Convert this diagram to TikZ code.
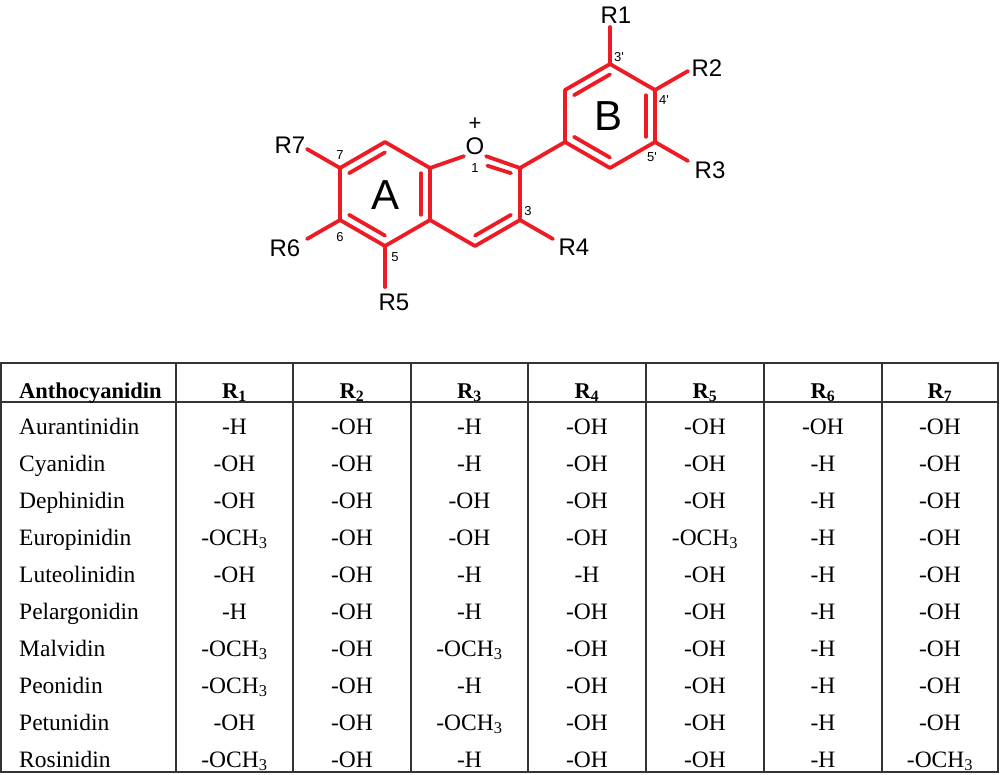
\documentclass[tikz,border=0pt]{standalone}
\usepackage{fontspec}
\setmainfont{Liberation Serif}
\newfontfamily\arial{Liberation Sans}
\usetikzlibrary{calc}
\definecolor{bondred}{RGB}{237,28,36}
\begin{document}
\begin{tikzpicture}[x=1pt,y=-1pt,
  bond/.style={draw=bondred,line width=3.8pt,line cap=round,line join=round},
  rlab/.style={font=\arial\fontsize{24}{24}\selectfont,inner sep=0pt},
  num/.style={font=\arial\fontsize{13}{13}\selectfont,inner sep=0pt},
  ringlab/.style={font=\arial\fontsize{42}{42}\selectfont,inner sep=0pt},
  cell/.style={font=\fontsize{23.5}{23.5}\selectfont,inner sep=0pt,anchor=base},
  hcell/.style={font=\bfseries\fontsize{22.5}{22.5}\selectfont,inner sep=0pt,anchor=base},
  grid/.style={draw=black!80,line width=1.3pt}]
\useasboundingbox (0,0) rectangle (1000,774);
% ring A
\coordinate (c7) at (340,168); \coordinate (c8) at (385,142);
\coordinate (c8a) at (430,168); \coordinate (c4a) at (430,220);
\coordinate (c5) at (385,246); \coordinate (c6) at (340,220);
\coordinate (ca) at (385,194);
% pyran
\node[font=\arial\fontsize{24}{24}\selectfont,inner sep=1.5pt] (o) at (475,146) {O};
\coordinate (c2) at (520,168); \coordinate (c3) at (520,220);
\coordinate (c4) at (475,246); \coordinate (cp) at (475,194);
% ring B
\coordinate (b1) at (565,142); \coordinate (b2) at (610,168);
\coordinate (b3) at (655,142); \coordinate (b4) at (655,90);
\coordinate (b5) at (610,64); \coordinate (b6) at (565,90);
\coordinate (cb) at (610,116);
% substituent ends
\coordinate (e1) at (610,27); \coordinate (e2) at (688,71);
\coordinate (e3) at (688,161); \coordinate (e4) at (553,239);
\coordinate (e5) at (385,287); \coordinate (e6) at (307,239);
\coordinate (e7) at (307,149);
\path[bond] (c7)--(c8)--(c8a)--(c4a)--(c5)--(c6)--cycle;
\path[bond] (c8a)--(o.south west);
\path[bond] (o.south east)--(c2)--(c3)--(c4)--(c4a);
\path[bond] (b1)--(b2)--(b3)--(b4)--(b5)--(b6)--cycle;
\path[bond] (c2)--(b1);
\path[bond] (b5)--(e1); \path[bond] (b4)--(e2); \path[bond] (b3)--(e3);
\path[bond] (c3)--(e4); \path[bond] (c5)--(e5); \path[bond] (c6)--(e6); \path[bond] (c7)--(e7);
% inner double bonds
\path[bond] ($(c7)!0.2!(ca)$)--($(c8)!0.2!(ca)$);
\path[bond] ($(c8a)!0.2!(ca)$)--($(c4a)!0.2!(ca)$);
\path[bond] ($(c5)!0.2!(ca)$)--($(c6)!0.2!(ca)$);
\path[bond] ($(c3)!0.2!(cp)$)--($(c4)!0.2!(cp)$);
\path[bond] ($(o.south east)!0.25!(cp)+(4,0)$)--($(c2)!0.2!(cp)$);
\path[bond] ($(b6)!0.2!(cb)$)--($(b5)!0.2!(cb)$);
\path[bond] ($(b4)!0.2!(cb)$)--($(b3)!0.2!(cb)$);
\path[bond] ($(b1)!0.2!(cb)$)--($(b2)!0.2!(cb)$);
% labels
\node[font=\arial\fontsize{22}{22}\selectfont,inner sep=0pt] (plus) at (475,124) {+};
\node[ringlab] (la) at (386,195) {A};
\node[ringlab] (lb) at (608,116) {B};
\node[rlab] (r1) at (616,15) {R1};
\node[rlab] (r2) at (707,68) {R2};
\node[rlab] (r3) at (710,170) {R3};
\node[rlab] (r4) at (574,247) {R4};
\node[rlab] (r5) at (394,302) {R5};
\node[rlab] (r6) at (285,248) {R6};
\node[rlab] (r7) at (290,145) {R7};
\node[num] (n7) at (340,155) {7};
\node[num] (n6) at (340,237) {6};
\node[num] (n5) at (395,257) {5};
\node[num] (n1) at (475,168) {1};
\node[num] (n3) at (528,211) {3};
\node[num] (n3p) at (619,57) {3'};
\node[num] (n4p) at (664,100) {4'};
\node[num] (n5p) at (652,157) {5'};
% table
\draw[grid] (1,363) rectangle (998,772);
\draw[grid] (1,402) -- (998,402);
\foreach \x in {176,293,411,528,646,764,882} \draw[grid] (\x,363) -- (\x,772);
\node[hcell,anchor=base west] (h0) at (19,398) {Anthocyanidin};
\foreach \i/\x in {1/234.5,2/352,3/469.5,4/587,5/705,6/823,7/940}
  \node[hcell] (h\i) at (\x,398) {R\textsubscript{\i}};
\def\ch{-OCH\textsubscript{3}}
\foreach \r [count=\k] in {
 {Aurantinidin,-H,-OH,-H,-OH,-OH,-OH,-OH},
 {Cyanidin,-OH,-OH,-H,-OH,-OH,-H,-OH},
 {Dephinidin,-OH,-OH,-OH,-OH,-OH,-H,-OH},
 {Europinidin,\ch,-OH,-OH,-OH,\ch,-H,-OH},
 {Luteolinidin,-OH,-OH,-H,-H,-OH,-H,-OH},
 {Pelargonidin,-H,-OH,-H,-OH,-OH,-H,-OH},
 {Malvidin,\ch,-OH,\ch,-OH,-OH,-H,-OH},
 {Peonidin,\ch,-OH,-H,-OH,-OH,-H,-OH},
 {Petunidin,-OH,-OH,\ch,-OH,-OH,-H,-OH},
 {Rosinidin,\ch,-OH,-H,-OH,-OH,-H,\ch}}{
  \foreach \v [count=\j] in \r {
    \pgfmathsetmacro{\yy}{434+37*(\k-1)}
    \ifnum\j=1
      \node[cell,anchor=base west] (t\k-\j) at (19,\yy) {\v};
    \else
      \pgfmathsetmacro{\xx}{{0,234.5,352,469.5,587,705,823,940}[\j-1]}
      \node[cell] (t\k-\j) at (\xx,\yy) {\v};
    \fi
  }
}
\end{tikzpicture}
\end{document}
